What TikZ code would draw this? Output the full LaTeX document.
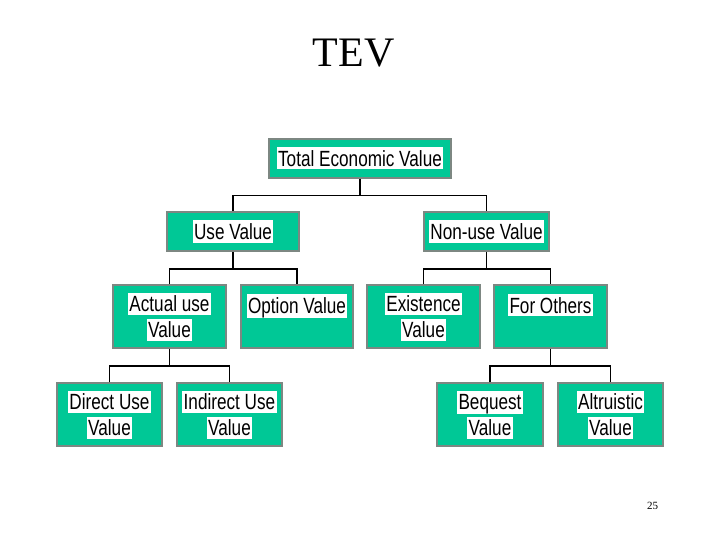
\documentclass[tikz,border=0pt]{standalone}
\usepackage{fontspec}
\setmainfont{Liberation Serif}
\newfontfamily\boxfont[FakeStretch=0.78]{Liberation Sans}
\usepackage{xcolor}
\usepackage{tikz}
\usetikzlibrary{positioning}

\definecolor{boxgreen}{RGB}{0,200,150}
\definecolor{boxedge}{RGB}{125,135,130}

% white band behind each line of box text
\newcommand{\wbg}[1]{{\setlength{\fboxsep}{0pt}\colorbox{white}{\hspace{1.5pt}\rule[-0.12em]{0pt}{1em}#1\hspace{1.5pt}}}}

\begin{document}
\begin{tikzpicture}[
    x=1pt,
    y=-1pt,
    valuebox/.style={
        draw=boxedge,
        line width=1.5pt,
        fill=boxgreen,
        align=center,
        inner sep=0pt,
        font=\boxfont\fontsize{22}{26}\selectfont
    },
    flatbox/.style={
        valuebox,
        minimum height=39pt
    },
    tallbox/.style={
        valuebox,
        minimum height=63pt
    },
    link/.style={
        line width=1.5pt
    }
]

\useasboundingbox (0,0) rectangle (720,540);


\node[anchor=base] (title) at (353.5,67) {\fontsize{42}{50}\selectfont TEV};
\node[anchor=base] (page) at (652.5,509) {\fontsize{11}{13}\selectfont 25};


\node[flatbox, minimum width=182pt] (tev) at (360,158.5) {\wbg{Total Economic Value}};

\node[flatbox, minimum width=132pt] (use) at (233,231.5) {\wbg{Use Value}};
\node[flatbox, minimum width=125pt] (nonuse) at (486.5,231.5) {\wbg{Non-use Value}};


\node[tallbox, minimum width=113pt] (actual) at (169.5,316.5) {\wbg{Actual use}\\\wbg{Value}};
\node[tallbox, minimum width=112pt] (option) at (297,316.5) {\wbg{Option Value}\\\mbox{}};
\node[tallbox, minimum width=113pt] (exist) at (423.5,316.5) {\wbg{Existence}\\\wbg{Value}};
\node[tallbox, minimum width=113pt] (others) at (550.5,316.5) {\wbg{For Others}\\\mbox{}};


\node[tallbox, minimum width=105pt] (direct) at (109.5,414.5) {\wbg{Direct Use}\\\wbg{Value}};
\node[tallbox, minimum width=105pt] (indirect) at (229.5,414.5) {\wbg{Indirect Use}\\\wbg{Value}};
\node[tallbox, minimum width=106pt] (bequest) at (490,414.5) {\wbg{Bequest}\\\wbg{Value}};
\node[tallbox, minimum width=105pt] (altru) at (610.5,414.5) {\wbg{Altruistic}\\\wbg{Value}};


% branches
\draw[link] (tev.south) -- ++(0,17) coordinate (tevj);
\draw[link] (use.north) |- (tevj) -| (nonuse.north);

\draw[link] (use.south) -- ++(0,17) coordinate (usej);
\draw[link] (actual.north) |- (usej) -| (option.north);

\draw[link] (nonuse.south) -- ++(0,17) coordinate (nonusej);
\draw[link] (exist.north) |- (nonusej) -| (others.north);

\draw[link] (actual.south) -- ++(0,17) coordinate (actualj);
\draw[link] (direct.north) |- (actualj) -| (indirect.north);

\draw[link] (others.south) -- ++(0,17) coordinate (othersj);
\draw[link] (bequest.north) |- (othersj) -| (altru.north);

\end{tikzpicture}
\end{document}
